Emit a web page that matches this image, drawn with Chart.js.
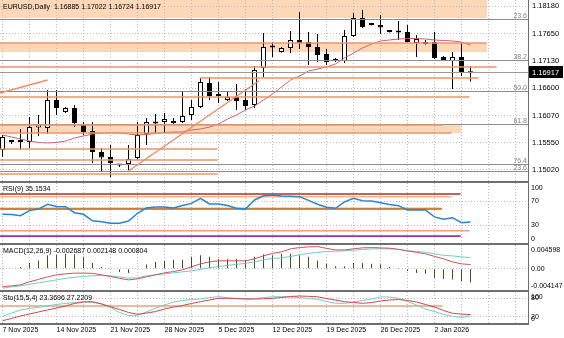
<!DOCTYPE html>
<html>
<head>
<meta charset="utf-8">
<title>EURUSD Daily</title>
<script src="https://cdn.jsdelivr.net/npm/chart.js@4.4.1/dist/chart.umd.min.js"></script>
<style>
  html, body { margin: 0; padding: 0; background: #fff; }
  #terminal { position: relative; width: 564px; height: 338px; overflow: hidden; background: #fff; }
  #terminal canvas { position: absolute; left: 0; }
  .sep { position: absolute; left: 0; width: 529px; height: 2px; background: #6e6e6e; }
  .edge { position: absolute; left: 528px; top: 0; width: 1px; height: 325px; background: #6e6e6e; }
</style>
</head>
<body>
<div id="terminal">
  <canvas id="priceChart" width="564" height="181" style="top:0"></canvas>
  <canvas id="rsiChart" width="564" height="60" style="top:183px"></canvas>
  <canvas id="macdChart" width="564" height="45" style="top:245px"></canvas>
  <canvas id="stoChart" width="564" height="46" style="top:292px"></canvas>
  <div class="sep" style="top:181px"></div>
  <div class="sep" style="top:243px"></div>
  <div class="sep" style="top:290px"></div>
  <div class="sep" style="top:323px"></div>
  <div class="edge"></div>
</div>
<script>
const FONT = '"Liberation Sans", Arial, sans-serif';

// daily bars, oldest first (bar 0 = 7 Nov 2025)
const open = [1.15405,1.15559,1.15559,1.15559,1.15839,1.15829,1.16369,1.16137,1.16214,1.15887,
  1.15771,1.15366,1.15270,1.15116,1.15135,1.15251,1.15713,1.15916,1.15945,1.15925,
  1.15945,1.16080,1.16234,1.16696,1.16446,1.16369,1.16426,1.16369,1.16272,1.16985,
  1.17380,1.17294,1.17371,1.17525,1.17486,1.17390,1.17255,1.17159,1.17120,1.17602,
  1.17949,1.17824,1.17814,1.17689,1.17689,1.17679,1.17467,1.17448,1.17486,1.17197,
  1.17120,1.17197,1.16885];
const high = [1.15694,1.15598,1.15810,1.16041,1.16080,1.16561,1.16561,1.16234,1.16272,1.15945,
  1.15945,1.15444,1.15502,1.15135,1.15502,1.15945,1.16022,1.16099,1.16118,1.16022,
  1.16542,1.16369,1.16793,1.16812,1.16716,1.16523,1.16677,1.16581,1.17024,1.17660,
  1.17486,1.17390,1.17698,1.18064,1.17679,1.17640,1.17351,1.17178,1.17718,1.18045,
  1.18103,1.17833,1.18007,1.17698,1.17891,1.17814,1.17621,1.17525,1.17679,1.17217,
  1.17294,1.17467,1.17022];
const low = [1.15270,1.15521,1.15405,1.15444,1.15675,1.15713,1.16080,1.16118,1.15848,1.15694,
  1.15155,1.14981,1.14885,1.15077,1.15020,1.15212,1.15502,1.15733,1.15733,1.15906,
  1.15925,1.15983,1.16214,1.16369,1.16311,1.16349,1.16176,1.16176,1.16214,1.16812,
  1.17197,1.17284,1.17274,1.17351,1.17043,1.17101,1.17043,1.17101,1.17082,1.17583,
  1.17756,1.17804,1.17640,1.17669,1.17525,1.17467,1.17197,1.17438,1.17159,1.17120,
  1.16581,1.16831,1.16724];
const close = [1.15656,1.15569,1.15569,1.15848,1.15896,1.16369,1.16214,1.16214,1.15925,1.15752,
  1.15366,1.15260,1.15155,1.15106,1.15232,1.15694,1.15945,1.15925,1.16002,1.15964,
  1.16060,1.16234,1.16716,1.16446,1.16455,1.16426,1.16349,1.16253,1.16947,1.17390,
  1.17390,1.17371,1.17525,1.17467,1.17390,1.17236,1.17101,1.17120,1.17602,1.17949,
  1.17775,1.17814,1.17766,1.17679,1.17669,1.17486,1.17544,1.17486,1.17178,1.17120,
  1.17197,1.16889,1.16917];
const movingAvg = [1.15694,1.15656,1.15617,1.15579,1.15550,1.15540,1.15550,1.15579,1.15636,1.15675,
  1.15713,1.15733,1.15742,1.15733,1.15713,1.15694,1.15704,1.15723,1.15742,1.15752,
  1.15752,1.15791,1.15810,1.15848,1.15906,1.16002,1.16080,1.16176,1.16253,1.16369,
  1.16484,1.16619,1.16754,1.16831,1.16927,1.16966,1.17005,1.17063,1.17178,1.17274,
  1.17371,1.17448,1.17506,1.17525,1.17544,1.17554,1.17554,1.17544,1.17525,1.17515,
  1.17506,1.17486,1.17429];

const rsi = [47.8,47.5,45.5,54,56.5,64.5,61,60.5,50.5,47.8,
  37,35.5,33,32.8,36.5,49.5,58.5,60,60.2,58.5,
  62.5,66,74.5,65,65,62.5,58,56.7,71.7,78.8,
  80,78.3,78,77.2,71,64.5,59.5,57.8,68.5,74.5,
  70.5,70,67,64,62.2,55,55.5,55,43.5,39.5,
  42.2,33.8,35.1534];

const macdHist = [0.00005,0.0001,0.00032,0.0011,0.0016,0.0026,0.0027,0.0029,0.0028,0.0023,
  0.0011,0.0003,0.0001,-0.00065,-0.00085,-0.0001,0.0008,0.0013,0.0015,0.00175,
  0.00175,0.0023,0.0026,0.0023,0.0019,0.0019,0.0019,0.00175,0.0023,0.0028,
  0.0026,0.0029,0.0029,0.0026,0.0023,0.0016,0.00097,0.00045,0.00045,0.0011,
  0.0011,0.00097,0.00084,0.00032,0.00005,-0.00045,-0.00084,-0.00097,-0.0018,-0.0020,
  -0.0021,-0.0024,-0.002687];
const macdSignal = [-0.00379,-0.00354,-0.00334,-0.00305,-0.00276,-0.00247,-0.00218,-0.00188,-0.00169,-0.00150,
  -0.00140,-0.00130,-0.00140,-0.00159,-0.00185,-0.00179,-0.00140,-0.00120,-0.00101,-0.00082,
  -0.00062,-0.00043,-0.00014,0.00016,0.00041,0.00064,0.00084,0.00103,0.00132,0.00171,
  0.00200,0.00210,0.00239,0.00268,0.00297,0.00317,0.00332,0.00340,0.00346,0.00359,
  0.00371,0.00385,0.00385,0.00385,0.00375,0.00346,0.00336,0.00317,0.00288,0.00258,
  0.00249,0.00229,0.002148];
const macdMain = [-0.00348,-0.00334,-0.00315,-0.00256,-0.00208,-0.00159,-0.00120,-0.00101,-0.00087,-0.00087,
  -0.00091,-0.00120,-0.00153,-0.00188,-0.00218,-0.00198,-0.00159,-0.00120,-0.00082,-0.00056,
  -0.00023,0.00035,0.00093,0.00132,0.00152,0.00152,0.00152,0.00152,0.00190,0.00249,
  0.00297,0.00326,0.00385,0.00410,0.00424,0.00429,0.00394,0.00365,0.00365,0.00385,
  0.00404,0.00410,0.00404,0.00398,0.00375,0.00346,0.00317,0.00288,0.00239,0.00190,
  0.00132,0.00093,0.000804];

const stoMain = [21,32,42,47,50.6,55,60,63,66,68.7,
  66,63,50,34,24,25,35.5,48,58,67.7,
  72.6,75.8,77.4,82,85,81,79,77.4,79,82,
  84.5,85,84,82,79,76.5,69.4,63.5,63.5,67.7,
  72.6,77.4,84,84,79.7,69.4,58,45,37,27.4,
  21.6,17.7,23.3696];
const stoSignal = [7.4,14.5,22.6,29,35.5,42,48,55,63,67.7,
  68.7,61,52.6,43.5,34,28,32,37,45,51.6,
  56.5,63,68.7,74,79.7,79.7,79,77.4,77.4,78,
  79.7,82,85.5,87,86,84.5,79,74,68.7,66,
  63.5,66,71,74,75.8,72.6,67.7,59.7,51.6,40.3,
  31.3,28.5,27.2209];

// one date label every 6 bars, starting at bar 0
const dateLabels = ['7 Nov 2025','14 Nov 2025','21 Nov 2025','28 Nov 2025','5 Dec 2025',
  '12 Dec 2025','19 Dec 2025','26 Dec 2025','2 Jan 2026'];
const priceTicks = [1.15020, 1.15550, 1.16070, 1.16600, 1.17130, 1.17650, 1.18180];

// drawn objects on the price window
const zones = [[-1, 53.8, 1.17949, 1.18400], [-1, 53.8, 1.17294, 1.17467], [-1, 50.9, 1.15733, 1.15887]]; // [fromBar, toBar, low, high]
const levelLines = [[-1, 53.8, 1.17467], [-1, 54.9, 1.17005], [21.9, 52.9, 1.16793], [-1, 51.9, 1.16426],
  [-1, 48.9, 1.15887], [-1, 49.9, 1.15733], [-1, 23.9, 1.15424], [-1, 23.9, 1.15212], [-1, 23.9, 1.14943]]; // [fromBar, toBar, price]
const trendLines = [[-0.3, 1.16503, 5, 1.16754], [14, 1.15000, 28.5, 1.16740]]; // [bar1, price1, bar2, price2]
const fibPrices = [1.17930, 1.17149, 1.16542, 1.15906, 1.15135, 1.15000];
const fibNames = ['23.6', '38.2', '50.0', '61.8', '76.4', '23.6'];

// drawn objects on the indicator windows: [level, toBar]
const rsiMarks = [[81.7, 50.9], [77.2, 49.9], [57.6, 48.8], [56.5, 48.8], [20.5, 51.9], [11.5, 50.9]];
const rsiMarkColors = ['rgb(175,45,45)', 'rgb(244,180,142)', 'rgb(120,130,60)', 'rgb(232,128,50)', 'rgb(238,160,122)', 'rgb(150,50,175)'];
const stoMarks = [[54.8, 48.9]];

const bars = close.map((c, i) => i);
const series = arr => arr.map((v, i) => ({ x: i, y: v }));
const last = arr => arr[arr.length - 1];

const gridBars = [];
for (let b = 0; b <= 57; b += 3) gridBars.push(b);

function noPad(s) { s.paddingTop = 0; s.paddingBottom = 0; s.paddingLeft = 0; s.paddingRight = 0; }

function timeAxis(showDates) {
  return {
    type: 'linear', min: -0.27778, max: 58.38889, offset: false,
    grid: { color: '#bdbdbd', drawTicks: false, offset: false },
    border: { display: false, dash: [1, 2] },
    ticks: {
      display: showDates, autoSkip: false, maxRotation: 0, minRotation: 0, align: 'start',
      padding: 3, color: '#000', font: { family: FONT, size: 7 },
      callback: v => (v % 6 === 0 && dateLabels[v / 6]) || ''
    },
    afterBuildTicks: s => { s.ticks = gridBars.map(v => ({ value: v })); },
    afterFit: s => { s.height = showDates ? 15 : 0; noPad(s); }
  };
}

function valueAxis(min, max, ticks, showLabels, fmt) {
  return {
    position: 'right', min, max,
    grid: { color: '#bdbdbd', drawTicks: false },
    border: { display: false, dash: [1, 2] },
    ticks: { display: showLabels, padding: 4, color: '#000', font: { family: FONT, size: 7.5 }, callback: fmt },
    afterBuildTicks: s => { s.ticks = ticks.map(v => ({ value: v })); },
    afterFit: s => { s.width = 36; noPad(s); }
  };
}

function baseOptions(y, showDates) {
  return {
    responsive: false, animation: false, devicePixelRatio: 1, events: [],
    layout: { padding: 0 },
    plugins: { legend: { display: false }, tooltip: { enabled: false } },
    scales: { x: timeAxis(showDates), y }
  };
}

function hline(ctx, x1, x2, y, color, width) {
  ctx.strokeStyle = color; ctx.lineWidth = width;
  ctx.beginPath(); ctx.moveTo(x1, y); ctx.lineTo(x2, y); ctx.stroke();
}

// title and right-hand labels of an indicator window, kept inside the window
function panelText(title, labels) {
  return {
    id: 'panelText',
    afterDraw(chart) {
      const { ctx, chartArea: a, scales: { y } } = chart;
      ctx.save();
      ctx.font = '7px ' + FONT; ctx.fillStyle = '#000';
      ctx.textBaseline = 'middle'; ctx.textAlign = 'left';
      ctx.fillText(title, 3, a.top + 6);
      labels.forEach(([v, t]) => {
        const py = Math.min(Math.max(y.getPixelForValue(v), a.top + 5), a.bottom - 4);
        ctx.fillText(t, a.right + 3, py);
      });
      ctx.restore();
    }
  };
}

function levelMarks(marks, colors) {
  return {
    id: 'levelMarks',
    beforeDatasetsDraw(chart) {
      const { ctx, chartArea: a, scales: { x, y } } = chart;
      ctx.save();
      ctx.beginPath(); ctx.rect(a.left, a.top, a.width, a.height); ctx.clip();
      marks.forEach(([v, toBar], i) => {
        hline(ctx, a.left, x.getPixelForValue(toBar), y.getPixelForValue(v), colors[i], 1.6);
      });
      ctx.restore();
    }
  };
}

// ---- price window ----
const priceObjects = {
  id: 'priceObjects',
  beforeDraw(chart) {
    const { ctx, chartArea: a, scales: { x, y } } = chart;
    ctx.save();
    ctx.beginPath(); ctx.rect(a.left, a.top, a.width, a.height); ctx.clip();
    ctx.fillStyle = 'rgb(252,216,184)';
    zones.forEach(([b1, b2, lo, hi]) => {
      const x1 = x.getPixelForValue(b1), x2 = Math.round(x.getPixelForValue(b2));
      const y1 = Math.round(y.getPixelForValue(hi)), y2 = Math.round(y.getPixelForValue(lo));
      ctx.fillRect(x1, y1, x2 - x1, y2 - y1);
    });
    ctx.restore();
  },
  afterDatasetsDraw(chart) {
    const { ctx, chartArea: a, scales: { x, y } } = chart;
    ctx.save();
    ctx.beginPath(); ctx.rect(a.left, a.top, a.width, a.height); ctx.clip();
    fibPrices.forEach(p => hline(ctx, a.left, a.right, Math.round(y.getPixelForValue(p)) + 0.5, '#8c8c8c', 1));
    hline(ctx, a.left, a.right, Math.round(y.getPixelForValue(last(close))) + 0.5, '#9a9a9a', 1);
    levelLines.forEach(([b1, b2, p]) => {
      hline(ctx, x.getPixelForValue(b1), x.getPixelForValue(b2), y.getPixelForValue(p), 'rgb(236,148,108)', 1.4);
    });
    ctx.strokeStyle = 'rgb(236,140,96)'; ctx.lineWidth = 1.4;
    trendLines.forEach(([b1, p1, b2, p2]) => {
      ctx.beginPath();
      ctx.moveTo(x.getPixelForValue(b1), y.getPixelForValue(p1));
      ctx.lineTo(x.getPixelForValue(b2), y.getPixelForValue(p2));
      ctx.stroke();
    });
    ctx.restore();
  },
  afterDraw(chart) {
    const { ctx, chartArea: a, scales: { y } } = chart;
    ctx.save();
    ctx.font = '7px ' + FONT; ctx.textBaseline = 'middle';
    ctx.fillStyle = '#000'; ctx.textAlign = 'left';
    const ohlc = [last(open), last(high), last(low), last(close)].map(v => v.toFixed(5)).join(' ');
    ctx.fillText('EURUSD,Daily  ' + ohlc, 3, 7);
    ctx.fillStyle = '#808080'; ctx.textAlign = 'right'; ctx.textBaseline = 'alphabetic';
    fibPrices.forEach((p, i) => ctx.fillText(fibNames[i], a.right - 1, Math.round(y.getPixelForValue(p)) - 1));
    // bid price marker on the price scale
    const by = Math.round(y.getPixelForValue(last(close)));
    ctx.fillStyle = '#000';
    ctx.fillRect(a.right + 1, by - 6, 34, 12);
    ctx.fillStyle = '#fff'; ctx.textAlign = 'left'; ctx.textBaseline = 'middle';
    ctx.font = '7.5px ' + FONT;
    ctx.fillText(last(close).toFixed(5), a.right + 4, by + 0.5);
    ctx.restore();
  }
};

new Chart(document.getElementById('priceChart'), {
  type: 'bar',
  data: {
    datasets: [
      { type: 'bar', data: bars.map(i => ({ x: i, y: [low[i], high[i]] })), backgroundColor: '#000',
        borderWidth: 0, barThickness: 1, inflateAmount: 0, grouped: false, order: 3 },
      { type: 'bar', data: bars.map(i => ({ x: i, y: [open[i], close[i]] })),
        backgroundColor: bars.map(i => close[i] > open[i] ? '#ffffff' : '#000000'),
        borderColor: '#000', borderWidth: 1, borderSkipped: false, barThickness: 5, minBarLength: 2,
        inflateAmount: 0, grouped: false, order: 2 },
      { type: 'line', data: series(movingAvg), borderColor: 'rgb(200,100,110)', borderWidth: 1,
        pointRadius: 0, tension: 0, order: 1 }
    ]
  },
  options: baseOptions(valueAxis(1.14808, 1.18296, priceTicks, true, v => v.toFixed(5)), false),
  plugins: [priceObjects]
});

// ---- RSI window ----
new Chart(document.getElementById('rsiChart'), {
  type: 'line',
  data: { datasets: [{ data: series(rsi), borderColor: 'rgb(40,132,215)', borderWidth: 1.5, pointRadius: 0, tension: 0 }] },
  options: baseOptions(valueAxis(0, 100, [30, 70], false), false),
  plugins: [levelMarks(rsiMarks, rsiMarkColors),
    panelText('RSI(9) ' + last(rsi).toFixed(4), [[100, '100'], [70, '70'], [30, '30'], [0, '0']])]
});

// ---- MACD window ----
new Chart(document.getElementById('macdChart'), {
  type: 'bar',
  data: {
    datasets: [
      { type: 'bar', data: series(macdHist), backgroundColor: 'rgb(70,80,30)', borderWidth: 0,
        barThickness: 1, inflateAmount: 0, order: 3 },
      { type: 'line', data: series(macdSignal), borderColor: 'rgb(112,204,204)', borderWidth: 1, pointRadius: 0, order: 2 },
      { type: 'line', data: series(macdMain), borderColor: 'rgb(205,85,85)', borderWidth: 1, pointRadius: 0, order: 1 }
    ]
  },
  options: baseOptions(valueAxis(-0.004147, 0.004598, [0], false), false),
  plugins: [panelText('MACD(12,26,9) ' + [last(macdHist), last(macdSignal), last(macdMain)].map(v => v.toFixed(6)).join(' '),
    [[0.004598, '0.004598'], [0, '0.00'], [-0.004147, '-0.004147']])]
});

// ---- Stochastic window ----
new Chart(document.getElementById('stoChart'), {
  type: 'line',
  data: {
    datasets: [
      { data: series(stoMain), borderColor: 'rgb(112,204,204)', borderWidth: 1, pointRadius: 0, order: 2 },
      { data: series(stoSignal), borderColor: 'rgb(210,70,70)', borderWidth: 1, pointRadius: 0, order: 1 }
    ]
  },
  options: baseOptions(valueAxis(0, 100, [20, 80], false), true),
  plugins: [levelMarks(stoMarks, ['rgb(238,160,122)']),
    panelText('Sto(15,5,4) ' + last(stoMain).toFixed(4) + ' ' + last(stoSignal).toFixed(4),
      [[100, '100'], [80, '80'], [20, '20'], [0, '0']])]
});
</script>
</body>
</html>
